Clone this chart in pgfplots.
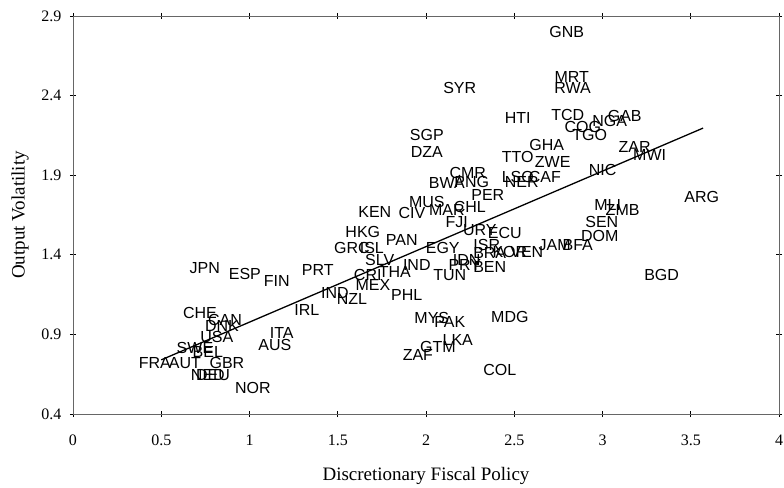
\documentclass[border=0pt]{standalone}
\usepackage{fontspec}
\setmainfont{Liberation Serif}
\newfontfamily\arial{Liberation Sans}
\usepackage{pgfplots}
\pgfplotsset{compat=1.18}
\pgfplotstableread{
x y label
0.719 1.034 CHE
0.861 0.990 CAN
0.844 0.953 DNK
0.815 0.884 USA
0.691 0.815 SWE
0.764 0.789 BEL
0.464 0.720 FRA
0.634 0.720 AUT
0.872 0.720 GBR
0.764 0.645 NED
0.793 0.645 DEU
1.019 0.563 NOR
1.183 0.909 ITA
1.144 0.833 AUS
1.325 1.053 IRL
1.155 1.235 FIN
0.974 1.279 ESP
0.747 1.317 JPN
1.387 1.305 PRT
1.484 1.160 IND
1.580 1.122 NZL
1.710 1.669 KEN
1.920 1.663 CIV
2.005 1.732 MUS
2.118 1.681 MAR
2.248 1.700 CHL
2.118 1.851 BWA
2.174 1.606 FJI
1.642 1.543 HKG
1.863 1.493 PAN
1.580 1.443 GRC
1.693 1.443 ISL
1.738 1.367 SLV
1.948 1.336 IND
1.670 1.273 CRI
1.823 1.292 THA
1.699 1.210 MEX
1.891 1.147 PHL
2.135 1.273 TUN
2.095 1.443 EGY
2.344 1.462 ISR
2.446 1.537 ECU
2.305 1.556 URY
2.231 1.367 IDN
2.220 1.336 PRY
2.361 1.411 BRA
2.475 1.418 KOR
2.571 1.418 VEN
2.361 1.323 BEN
2.729 1.462 JAM
2.860 1.462 BFA
2.984 1.518 DOM
2.996 1.606 SEN
3.029 1.713 MLI
3.114 1.681 ZMB
3.562 1.763 ARG
3.335 1.273 BGD
3.001 1.933 NIC
3.182 2.077 ZAR
3.267 2.027 MWI
2.797 2.800 GNB
2.826 2.517 MRT
2.831 2.448 RWA
2.520 2.259 HTI
2.803 2.278 TCD
3.126 2.272 GAB
3.041 2.240 NGA
2.888 2.203 COG
2.928 2.153 TGO
2.191 2.448 SYR
2.005 2.153 SGP
2.005 2.046 DZA
2.684 2.090 GHA
2.520 2.014 TTO
2.718 1.983 ZWE
2.237 1.914 CMR
2.259 1.857 PNG
2.520 1.889 LSO
2.542 1.857 NER
2.673 1.889 CAF
2.350 1.776 PER
2.033 1.003 MYS
2.135 0.978 PAK
2.180 0.865 LKA
2.067 0.821 GTM
1.954 0.771 ZAF
2.475 1.009 MDG
2.418 0.676 COL
}\countries
\begin{document}
\begin{tikzpicture}
\begin{axis}[
  scale only axis, width=706pt, height=398pt,
  at={(0,0)}, anchor=south west,
  xmin=0, xmax=4, ymin=0.4, ymax=2.9,
  xtick={0,0.5,1,1.5,2,2.5,3,3.5,4},
  ytick={0.4,0.9,1.4,1.9,2.4,2.9},
  yticklabels={0.4,0.9,1.4,1.9,2.4,2.9},
  /pgf/number format/assume math mode=true,
  tick align=center, major tick length=6pt,
  tick style={black, line width=0.6pt},
  axis line style={black!60, line width=0.6pt},
  ticklabel style={font=\fontsize{16}{16}\selectfont},
  xticklabel style={yshift=-14pt},
  yticklabel style={xshift=-5pt},
  every axis x label/.style={at={(rel axis cs:0.5,0)}, yshift=-62pt, anchor=center},
  every axis y label/.style={at={(rel axis cs:0,0.5)}, xshift=-53pt, rotate=90, anchor=center},
  label style={font=\fontsize{19}{19}\selectfont},
  xlabel={Discretionary Fiscal Policy},
  ylabel={Output Volatility},
  clip=false,
]
\addplot[only marks, mark=*, mark size=0pt, mark options={draw=none, fill=none},
  nodes near coords, point meta=explicit symbolic,
  every node near coord/.style={anchor=center, inner sep=0pt, text=black,
    font=\arial\fontsize{16}{16}\selectfont}]
  table[x=x, y=y, meta=label] {\countries};
\addplot[black, line width=1.3pt] coordinates {(0.5,0.74) (3.57,2.196)};
\end{axis}
\pgfresetboundingbox
\path (-73pt,-73pt) rectangle (711pt,414pt);
\end{tikzpicture}
\end{document}
